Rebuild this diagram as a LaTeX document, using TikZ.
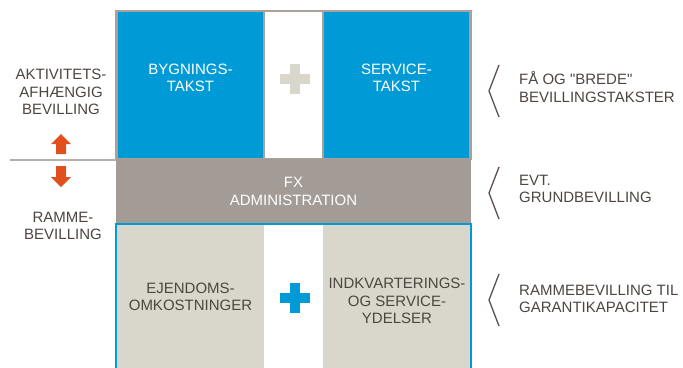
\documentclass[tikz,border=0pt]{standalone}
\usepackage{fontspec}
\setmainfont{Liberation Sans}[Ligatures=TeXOff]
\definecolor{takstblaa}{HTML}{009BD6}
\definecolor{admingraa}{HTML}{A39B95}
\definecolor{beige}{HTML}{D9D7CB}
\definecolor{rammegraa}{HTML}{A8A09A}
\definecolor{linjegraa}{HTML}{B7B0AA}
\definecolor{pilorange}{HTML}{E0501F}
\definecolor{moerk}{HTML}{4D4541}
\definecolor{klammefarve}{HTML}{5C514B}
% cruz de dos barras
\newcommand{\plustegn}[3]{%
    \fill[#3] (#1-15,#2-5) rectangle (#1+15,#2+5);
    \fill[#3] (#1-5,#2-15) rectangle (#1+5,#2+15);
}
\begin{document}
\begin{tikzpicture}[x=1pt,y=-1pt,
    tekst/.style={font=\fontsize{15}{17.5}\selectfont, text=moerk, align=center, inner sep=0pt},
    hvid/.style={tekst, text=white},
    note/.style={tekst, align=left, anchor=west},
    blaafelt/.style={fill=takstblaa, draw=rammegraa, line width=1.2pt, minimum width=147pt, minimum height=147pt, inner sep=0pt},
    beigefelt/.style={fill=beige, minimum width=147pt, minimum height=143pt, inner sep=0pt, anchor=north west},
    klamme/.style={draw=klammefarve, line width=1.3pt}]
    \useasboundingbox (0,0) rectangle (683,367);

    % Marco superior
    \draw[rammegraa, line width=1.2pt] (116,11) rectangle (471,159);

    % Tasas por actividad
    \node[blaafelt] (bygning) at (190.5,85) {};
    \node[blaafelt] (service) at (396.5,85) {};
    \node[hvid] (bygningtxt) at (190.5,78) {BYGNINGS-\\TAKST};
    \node[hvid] (servicetxt) at (396.5,78) {SERVICE-\\TAKST};
    \plustegn{294.5}{79}{beige}

    % Administración
    \node[hvid, fill=admingraa, minimum width=355pt, minimum height=65pt] (admin) at (293.5,191.5) {FX\\ADMINISTRATION};

    % Bloque inferior
    \node[beigefelt] (ejendom) at (117,225) {};
    \node[beigefelt] (indkvartering) at (323,225) {};
    \draw[takstblaa, line width=1.2pt] (116,368) -- (116,224) -- (471,224) -- (471,368);
    \node[tekst] (ejendomtxt) at (190.5,297) {EJENDOMS-\\OMKOSTNINGER};
    \node[tekst] (indkvtxt) at (397,301) {INDKVARTERINGS-\\OG SERVICE-\\YDELSER};
    \plustegn{295}{298}{takstblaa}

    % Lado izquierdo
    \draw[linjegraa, line width=1.3pt] (10,160) -- (116,160);
    \node[tekst] (aktiv) at (61,92) {AKTIVITETS-\\AFHÆNGIG\\BEVILLING};
    \node[tekst] (ramme) at (63,226) {RAMME-\\BEVILLING};
    \fill[pilorange] (61,134) -- (71,144) -- (66,144) -- (66,154) -- (56,154) -- (56,144) -- (51,144) -- cycle;
    \fill[pilorange] (61,187) -- (71,177) -- (66,177) -- (66,166) -- (56,166) -- (56,177) -- (51,177) -- cycle;

    % Notas a la derecha
    \foreach \y/\t/\txt in {91/87/{FÅ OG "BREDE"\\BEVILLINGSTAKSTER},
                            193/189/{EVT.\\GRUNDBEVILLING},
                            300/299/{RAMMEBEVILLING TIL\\GARANTIKAPACITET}} {
        \draw[klamme] (499,\y-26) -- (489,\y) -- (499,\y+26);
        \node[note] (note\y) at (519,\t) {\txt};
    }
\end{tikzpicture}
\end{document}
